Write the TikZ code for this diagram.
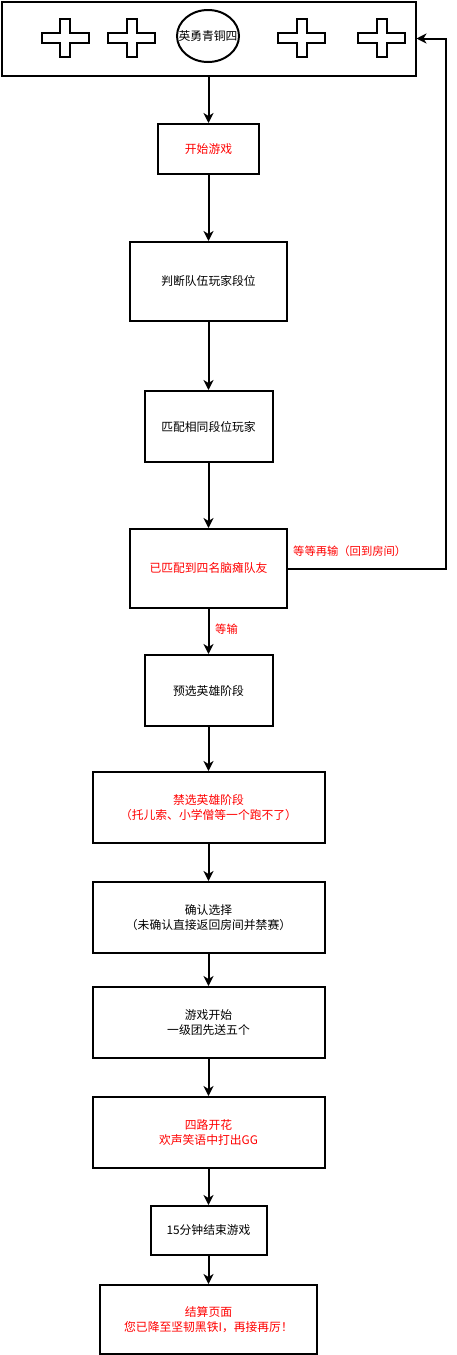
\documentclass[tikz,border=0pt]{standalone}
\usepackage{fontspec}
\newfontfamily\cjk{Noto Sans CJK SC}
\usetikzlibrary{arrows.meta,positioning,shapes.geometric}
\definecolor{txtred}{HTML}{FF0000}

\begin{document}
\begin{tikzpicture}
[x=1pt,y=-1pt,
every node/.style={font=\cjk\fontsize{11.8}{15}\selectfont,inner sep=0pt,align=center},
box/.style={draw=black,line width=2pt,rectangle},
warn/.style={text=txtred},
flow/.style={line width=2pt,-{Stealth[length=10pt,width=10pt,inset=3pt]}},
edgetext/.style={font=\cjk\fontsize{11.3}{14}\selectfont,text=txtred}]
\useasboundingbox (0,0) rectangle (456,1355);

% lobby with the team
\node[box,minimum width=414pt,minimum height=74pt] (lobby) at (208.5,38.5) {};
\node[draw=black,line width=2pt,ellipse,minimum width=62pt,minimum height=52pt,label=center:{英勇青铜四}] (team) at (208,36) {};
\foreach \cx in {65,131.5,301.5,381.5}
  \draw[line width=2pt] (\cx-5,19) -- (\cx+5,19) -- (\cx+5,33) -- (\cx+23.5,33) -- (\cx+23.5,43) -- (\cx+5,43) -- (\cx+5,57) -- (\cx-5,57) -- (\cx-5,43) -- (\cx-23.5,43) -- (\cx-23.5,33) -- (\cx-5,33) -- cycle;

% steps
\node[box,warn,minimum width=101pt,minimum height=50pt] (start) at (208.5,149) {开始游戏};
\node[box,minimum width=157pt,minimum height=79pt] (judge) at (208.5,281.5) {判断队伍玩家段位};
\node[box,minimum width=128pt,minimum height=71pt] (match) at (208.5,426.5) {匹配相同段位玩家};
\node[box,warn,minimum width=157pt,minimum height=79pt] (found) at (208.5,568.5) {已匹配到四名脑瘫队友};
\node[box,minimum width=128pt,minimum height=71pt] (pick) at (208.5,690.5) {预选英雄阶段};
\node[box,warn,minimum width=232pt,minimum height=71pt] (ban) at (208.5,807.5) {禁选英雄阶段\\（托儿索、小学僧等一个跑不了）};
\node[box,minimum width=232pt,minimum height=71pt] (confirm) at (208.5,917.5) {确认选择\\（未确认直接返回房间并禁赛）};
\node[box,minimum width=232pt,minimum height=71pt] (play) at (208.5,1022.5) {游戏开始\\一级团先送五个};
\node[box,warn,minimum width=232pt,minimum height=71pt] (bloom) at (208.5,1132.5) {四路开花\\欢声笑语中打出GG};
\node[box,minimum width=116pt,minimum height=49pt] (over) at (208.5,1230.5) {15分钟结束游戏};
\node[box,warn,minimum width=217pt,minimum height=69pt] (result) at (208.5,1319.5) {结算页面\\您已降至坚韧黑铁I，再接再厉！};

% connectors
\draw[flow] (lobby.south) -- (start.north);
\draw[flow] (start) -- (judge);
\draw[flow] (judge) -- (match);
\draw[flow] (match) -- (found);
\draw[flow] (found) -- (pick);
\draw[flow] (pick) -- (ban);
\draw[flow] (ban) -- (confirm);
\draw[flow] (confirm) -- (play);
\draw[flow] (play) -- (bloom);
\draw[flow] (bloom) -- (over);
\draw[flow] (over) -- (result);
\coordinate (turn) at (446,568.5);
\draw[flow] (found.east) -- (turn) |- (lobby.east);
\node[edgetext,anchor=west] (retry) at (293,551) {等等再输（回到房间）};
\node[edgetext,anchor=west] (lose) at (215,629) {等输};
\end{tikzpicture}
\end{document}
